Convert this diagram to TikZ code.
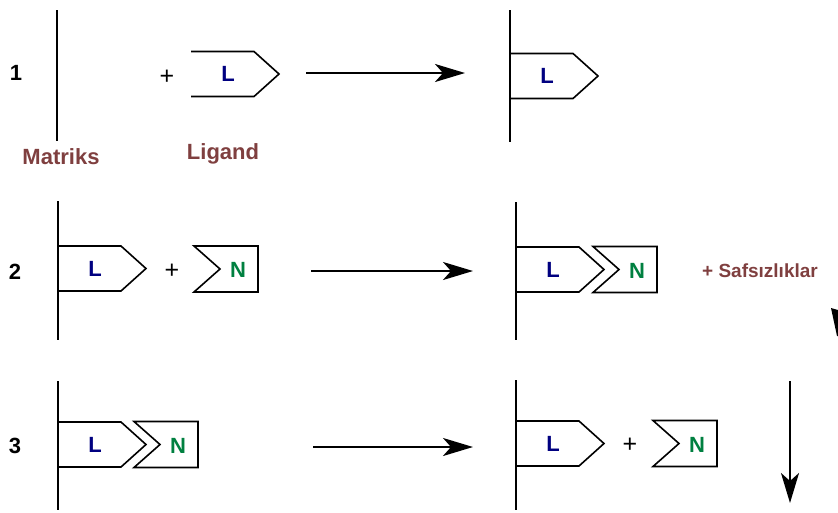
\documentclass[tikz,border=0pt]{standalone}
\usepackage{fontspec}
\setmainfont{Liberation Sans}
\usetikzlibrary{arrows.meta}
\definecolor{lnavy}{HTML}{000080}
\definecolor{ngreen}{HTML}{008040}
\definecolor{brn}{HTML}{7F3F3F}
\tikzset{
  shapeline/.style={line width=1.6pt, line join=miter},
  matrixline/.style={line width=2pt},
  reaction/.style={line width=2.4pt, -{Stealth[length=30pt,width=18pt,inset=8pt]}},
  lab/.style={font=\bfseries\fontsize{22}{24}\selectfont},
  plus/.style={font=\fontsize{25}{27}\selectfont},
  pics/ligand/.style={code={
    \draw[shapeline] (0,-22.5) -- (63,-22.5) -- (88,0) -- (63,22.5) -- (0,22.5);
    \node[lab, text=lnavy] (-t) at (37,0) {L};}},
  pics/nterm/.style={code={
    \draw[shapeline] (0,-23) -- (64,-23) -- (64,23) -- (0,23) -- (26,0) -- cycle;
    \node[lab, text=ngreen] (-t) at (44,1) {N};}}
}
\begin{document}
\begin{tikzpicture}[x=1pt, y=-1pt, line cap=butt]
  \useasboundingbox (0,0) rectangle (838,512);
  % step numbers
  \node[lab] (s1) at (16,73) {1};
  \node[lab] (s2) at (15,272) {2};
  \node[lab] (s3) at (15,446) {3};
  % row 1: matrix + ligand
  \draw[matrixline] (57,10) -- (57,141);
  \node[lab, text=brn] (matriks) at (61,157) {Matriks};
  \node[plus] (plus1) at (167,77) {+};
  \pic (lig1) at (191,74) {ligand};
  \node[lab, text=brn] (ligand) at (223,154) {Ligand};
  \coordinate (a1s) at (306,73); \coordinate (a1e) at (465,73);
  \draw[reaction] (a1s) -- (a1e);
  \draw[matrixline] (510,10) -- (510,142);
  \pic (lig1r) at (510,76) {ligand};
  % row 2: bound ligand + sample
  \draw[matrixline] (58,201) -- (58,340);
  \pic (lig2) at (58,268.5) {ligand};
  \node[plus] (plus2) at (172,271) {+};
  \pic (n2) at (194,269) {nterm};
  \coordinate (a2s) at (311,271); \coordinate (a2e) at (473,271);
  \draw[reaction] (a2s) -- (a2e);
  \draw[matrixline] (516,202) -- (516,340);
  \pic (lig2r) at (516,269.5) {ligand};
  \pic (n2r) at (593,269.5) {nterm};
  \node[font=\bfseries\fontsize{19}{21}\selectfont, text=brn] (safs) at (760,271) {+ Safsızlıklar};
  \fill (831,308) -- (838,310) -- (838,336) -- (837,336) -- cycle;
  % row 3: elution
  \draw[matrixline] (58,381) -- (58,510);
  \pic (lig3) at (58,444.5) {ligand};
  \pic (n3) at (134,444.5) {nterm};
  \coordinate (a3s) at (313,447); \coordinate (a3e) at (473,447);
  \draw[reaction] (a3s) -- (a3e);
  \draw[matrixline] (516,380) -- (516,510);
  \pic (lig3r) at (516,443.5) {ligand};
  \node[plus] (plus3) at (630,445) {+};
  \pic (n3r) at (653,443.5) {nterm};
  \coordinate (ds) at (790,381); \coordinate (de) at (790,503);
  \draw[reaction] (ds) -- (de);
\end{tikzpicture}
\end{document}
